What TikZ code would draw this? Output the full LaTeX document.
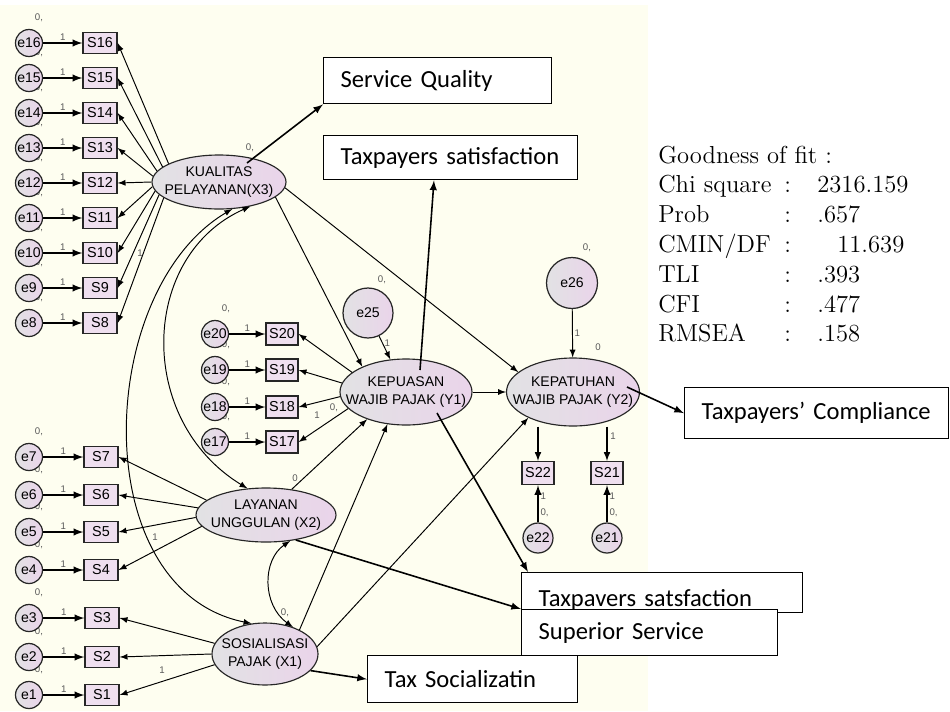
\documentclass[tikz,border=0pt]{standalone}
\usepackage{fontspec}
\usepackage{tikz}
\usetikzlibrary{arrows,calc,shapes.geometric}
\newfontfamily\boxfont{Carlito}
\newfontfamily\semfont{Liberation Sans}
\definecolor{cream}{RGB}{254,254,240}
\definecolor{sempink}{RGB}{234,212,234}
\definecolor{semgray}{RGB}{226,226,228}
\newcommand{\latname}[2]{\makebox[0pt]{#1}\\\makebox[0pt]{#2}}
\tikzset{
	errvar/.style={circle, draw=black!85, line width=0.7pt, left color=semgray, right color=sempink, inner sep=0pt, minimum size=0.54cm, font=\semfont\fontsize{8}{8}\selectfont},
	indic/.style={rectangle, draw=black!85, line width=0.75pt, fill=sempink!75!white, inner sep=0pt, minimum width=0.68cm, minimum height=0.42cm, font=\semfont\fontsize{8.2}{8}\selectfont},
	latent/.style={ellipse, draw=black!85, line width=0.65pt, left color=semgray, right color=sempink, inner sep=0pt, align=center, font=\semfont\fontsize{8}{10.5}\selectfont},
	outbox/.style={rectangle, draw, line width=0.8pt, fill=white, anchor=north west, align=left, inner xsep=0.34cm, inner ysep=0pt, font=\boxfont\fontsize{14}{17}\selectfont},
	semarrow/.style={-latex, line width=0.55pt},
	outarrow/.style={-latex, line width=0.9pt},
	covar/.style={latex-latex, line width=0.55pt},
	lbl/.style={inner sep=1pt, text=black!65, font=\semfont\fontsize{5.5}{6}\selectfont},
	gofit/.style={anchor=base west, inner sep=0pt, font=\fontsize{14}{17}\selectfont}
}
\begin{document}
\begin{tikzpicture}[x=0.02cm, y=-0.02cm]
    \useasboundingbox (0,0) rectangle (950,711);
    \fill[cream] (0,5) rectangle (648,711);

    \node (X3) [latent, minimum width=2.68cm, minimum height=1.08cm] at (219,182) {\latname{KUALITAS}{PELAYANAN(X3)}};
    \node (X2) [latent, minimum width=2.8cm, minimum height=1.08cm] at (266,515) {\latname{LAYANAN}{UNGGULAN (X2)}};
    \node (X1) [latent, minimum width=2.12cm, minimum height=1.24cm] at (265,654) {\latname{SOSIALISASI}{PAJAK (X1)}};
    \node (Y1) [latent, minimum width=2.64cm, minimum height=1.32cm] at (406,392) {\latname{KEPUASAN}{WAJIB PAJAK (Y1)}};
    \node (Y2) [latent, minimum width=2.66cm, minimum height=1.36cm] at (573,392) {\latname{KEPATUHAN}{WAJIB PAJAK (Y2)}};
    \node (e25) [errvar, minimum size=1cm] at (368,313) {e25};
    \node (e26) [errvar, minimum size=1.02cm] at (572,283) {e26};

    \foreach \i/\yy/\ang in {8/323/196,9/288/192,10/253/188,11/218/184,12/183/180,13/148/175,14/113/170,15/78/165,16/43/160} {
        \node (v\i) [lbl] at (39,\yy-25) {0,};
        \node (e\i) [errvar] at (29,\yy) {e\i};
        \node (S\i) [indic] at (100,\yy) {S\i};
        \draw [semarrow, line width=0.9pt] (e\i) -- node[lbl, above] {1} (S\i);
        \draw [semarrow] (X3.\ang) -- (S\i.east);
    }
    \foreach \i/\yy/\ang in {4/570/190,5/532/182,6/495/174,7/457/166} {
        \node (v\i) [lbl] at (39,\yy-25) {0,};
        \node (e\i) [errvar] at (29,\yy) {e\i};
        \node (S\i) [indic] at (101,\yy) {S\i};
        \draw [semarrow, line width=0.9pt] (e\i) -- node[lbl, above] {1} (S\i);
        \draw [semarrow] (X2.\ang) -- (S\i.east);
    }
    \foreach \i/\yy/\ang in {1/695/192,2/657/180,3/618/168} {
        \node (v\i) [lbl] at (39,\yy-25) {0,};
        \node (e\i) [errvar] at (29,\yy) {e\i};
        \node (S\i) [indic] at (102,\yy) {S\i};
        \draw [semarrow, line width=0.9pt] (e\i) -- node[lbl, above] {1} (S\i);
        \draw [semarrow] (X1.\ang) -- (S\i.east);
    }
    \foreach \i/\yy/\ang in {17/442/196,18/407/184,19/370/172,20/334/160} {
        \node (v\i) [lbl] at (226,\yy-25) {0,};
        \node (e\i) [errvar] at (215,\yy) {e\i};
        \node (S\i) [indic, minimum width=0.64cm, minimum height=0.44cm] at (282,\yy) {S\i};
        \draw [semarrow, line width=0.9pt] (e\i) -- node[lbl, above] {1} (S\i);
        \draw [semarrow] (Y1.\ang) -- (S\i.east);
    }
    \foreach \i/\xx in {22/538,21/607} {
        \node (S\i) [indic, minimum width=0.64cm, minimum height=0.46cm] at (\xx,473) {S\i};
        \node (e\i) [errvar, minimum size=0.6cm] at (\xx,538) {e\i};
        \draw [semarrow, line width=0.9pt] (e\i) -- node[lbl, right, pos=0.25] {0,} node[lbl, right, pos=0.7] {1} (S\i);
        \draw [semarrow, line width=0.7pt] (S\i |- Y2.south) -- (S\i);
    }

    \node (vX3) [lbl] at (250,148) {0,};
    \node (vX2) [lbl] at (295,478) {0};
    \node (vX1) [lbl] at (285,613) {0,};
    \node (vY2) [lbl] at (598,347) {0};
    \node (ve25) [lbl] at (382,280) {0,};
    \node (ve26) [lbl] at (587,248) {0,};
    \node (lS9) [lbl] at (140,253) {1};
    \node (lS4) [lbl] at (155,537) {1};
    \node (lS1) [lbl] at (162,670) {1};
    \node (lS17) [lbl] at (317,415) {1};
    \node (vS17) [lbl] at (334,408) {0,};
    \node (lS21) [lbl] at (613,436) {1};

    \draw [semarrow] (X3.-15) -- (Y1.150);
    \draw [semarrow] (X3.-5) -- (Y2.160);
    \draw [semarrow] (X2.45) -- (Y1.215);
    \draw [semarrow] (X1.35) -- (Y1.240);
    \draw [semarrow] (X1.8) -- (Y2.210);
    \draw [semarrow] (Y1) -- (Y2);
    \draw [semarrow] (e25) -- node[lbl, right, pos=0.3] {1} (Y1);
    \draw [semarrow] (e26) -- node[lbl, right] {1} (Y2);
    \draw [covar] (X3.-38) .. controls (140,255) and (135,420) .. (X2.125);
    \draw [covar] (X3.-64) .. controls (95,290) and (85,590) .. (X1.114);
    \draw [covar] (X2.-47) .. controls (262,560) and (262,605) .. (X1.44);

    \node (qual) [outbox, text width=3.88cm, minimum height=0.92cm] at (323,57) {Service Quality};
    \node (satisA) [outbox, text width=4.4cm, minimum height=0.88cm] at (323,135) {Taxpayers satisfaction};
    \node (comply) [outbox, text width=4.6cm, minimum height=1.02cm] at (684,387) {Taxpayers’ Compliance};
    \node (satisB) [outbox, text width=4.94cm, minimum height=0.8cm, text height=0.56cm, text depth=0pt] at (521,572) {Taxpavers satsfaction};
    \node (superior) [outbox, text width=4.44cm, minimum height=0.92cm] at (521,609) {Superior Service};
    \node (social) [outbox, text width=3.52cm, minimum height=0.94cm] at (367,655) {Tax Socializatin};

    \draw [outarrow] ($(X3.center)+(28,-19)$) -- (qual.south west);
    \draw [outarrow] ($(Y1.center)+(14,-22)$) -- ($(satisA.south west)+(111,0)$);
    \draw [outarrow] ($(Y1.center)+(31,21)$) -- ($(satisB.north west)+(7,0)$);
    \draw [outarrow] (X2.-40) -- (superior.north west);
    \draw [outarrow] (X1.-20) -- (social.west);
    \draw [outarrow] ($(Y2.center)+(54,-5)$) -- (comply.west);

    \node (fittitle) [gofit] at (658,163) {Goodness of fit :};
    \foreach \k/\lab/\val/\vx in {1/Chi square/2316.159/817, 2/Prob/.657/817, 3/{CMIN/DF}/11.639/837, 4/TLI/.393/817, 5/CFI/.477/817, 6/RMSEA/.158/817} {
        \node (fitlab\k) [gofit] at (658,163+29.8*\k) {\lab};
        \node (fitcol\k) [gofit] at (784,163+29.8*\k) {:};
        \node (fitval\k) [gofit] at (\vx,163+29.8*\k) {\val};
    }
\end{tikzpicture}
\end{document}
